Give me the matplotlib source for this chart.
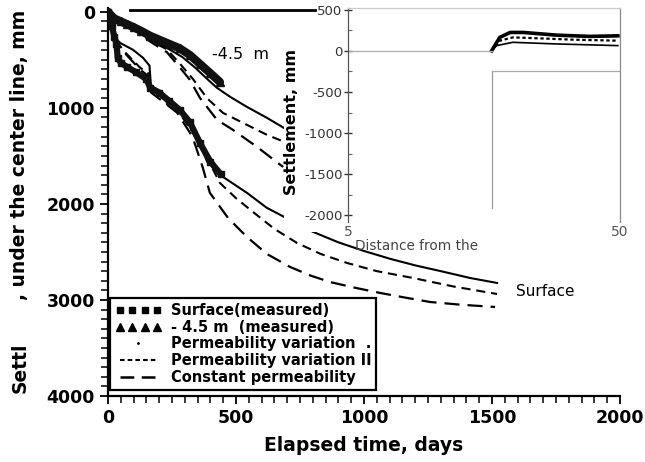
import matplotlib
matplotlib.use("Agg")
import matplotlib.pyplot as plt
from matplotlib.lines import Line2D
from matplotlib.patches import Rectangle
from matplotlib.legend_handler import HandlerLine2D
from matplotlib.ticker import MultipleLocator

# ---------------- data (main chart) ----------------
# Surface, measured (squares)
surf_meas_days = [0, 8, 15, 25, 33, 38, 50, 75, 110, 150, 165, 200, 240, 280, 320, 360, 400, 440]
surf_meas_mm = [0, 60, 150, 260, 330, 480, 530, 575, 630, 700, 790, 840, 930, 1020, 1150, 1370, 1560, 1690]

# -4.5 m, measured (triangles)
deep_meas_days = [0, 10, 25, 50, 75, 100, 130, 165, 200, 240, 280, 320, 360, 400, 437]
deep_meas_mm = [0, 30, 70, 100, 130, 160, 200, 250, 290, 335, 380, 450, 545, 640, 730]

# Surface simulations
surf_pv1_days = [0, 15, 30, 47, 98, 137, 162, 168, 203, 270, 309, 348, 387, 450, 543, 620, 711, 800, 900, 1000, 1100, 1200, 1300, 1414, 1520]
surf_pv1_mm = [0, 150, 280, 323, 396, 479, 560, 780, 850, 990, 1094, 1300, 1560, 1720, 1885, 2040, 2167, 2290, 2400, 2490, 2570, 2640, 2700, 2771, 2823]
surf_pv2_days = [0, 15, 30, 59, 125, 162, 168, 203, 270, 330, 380, 410, 437, 500, 566, 650, 738, 830, 934, 1050, 1191, 1350, 1520]
surf_pv2_mm = [0, 150, 290, 400, 580, 650, 810, 880, 1020, 1250, 1500, 1640, 1781, 1940, 2083, 2260, 2406, 2520, 2615, 2700, 2771, 2860, 2938]
surf_cp_days = [0, 15, 30, 59, 125, 162, 168, 203, 270, 330, 370, 398, 470, 543, 620, 711, 790, 867, 960, 1063, 1160, 1258, 1380, 1512]
surf_cp_mm = [0, 150, 300, 410, 600, 680, 840, 910, 1050, 1300, 1620, 1885, 2150, 2344, 2520, 2656, 2745, 2813, 2870, 2927, 2975, 3021, 3050, 3073]

# -4.5 m simulations
deep_pv1_days = [0, 50, 100, 165, 230, 290, 340, 391, 426, 477, 543, 621, 700]
deep_pv1_mm = [0, 95, 160, 290, 375, 470, 580, 708, 792, 885, 990, 1104, 1229]
deep_pv2_days = [0, 50, 100, 165, 230, 281, 332, 387, 449, 543, 621, 699]
deep_pv2_mm = [0, 100, 170, 300, 390, 540, 700, 900, 1052, 1177, 1281, 1365]
deep_cp_days = [0, 50, 100, 165, 230, 281, 320, 359, 426, 488, 582, 684]
deep_cp_mm = [0, 100, 175, 310, 420, 580, 708, 896, 1125, 1229, 1406, 1615]

x_ticks = [0, 500, 1000, 1500, 2000]
y_ticks = [0, 1000, 2000, 3000, 4000]

# ---------------- data (inset) ----------------
in_dist_a = [26.4, 27.9, 29.8, 32.2, 38.4, 44.5, 49.6]
in_sett_a = [0, 163, 223, 223, 190, 175, 182]
in_dist_b = [26.4, 27.9, 30.3, 35.3, 41.4, 49.6]
in_sett_b = [0, 123, 163, 151, 135, 123]
in_dist_c = [26.4, 27.3, 30.3, 38.4, 49.6]
in_sett_c = [0, 63, 103, 83, 63]
in_yticks = [500, 0, -500, -1000, -1500, -2000]
in_xticks = [0, 50]
in_xticklabels = ["5", "50"]

plt.rcParams['font.family'] = ['DejaVu Sans']
plt.rcParams['axes.unicode_minus'] = False

W, H = 645, 462
fig = plt.figure(figsize=(W / 100, H / 100), dpi=100)

def fx(px):
    return px / W

def fy(py):
    return 1 - py / H

ax = fig.add_axes([fx(108), fy(396), (620 - 108) / W, (396 - 8) / H])
ax.set_xlim(0, 2000)
ax.set_ylim(4000, -40)

short_dash = (4.4, 2.8)
long_dash = (6.8, 3.6)

# measured
ax.plot(surf_meas_days, surf_meas_mm, color='#111111', lw=4.5, marker='s', ms=4.5,
        solid_capstyle='round', zorder=4)
ax.plot(deep_meas_days, deep_meas_mm, color='#111111', lw=6, marker='^', ms=5.5,
        solid_capstyle='round', zorder=4)

# simulations
ax.plot(surf_pv1_days, surf_pv1_mm, color='black', lw=1.5, zorder=3)
ax.plot(surf_pv2_days, surf_pv2_mm, color='black', lw=1.5, dashes=short_dash, zorder=3)
ax.plot(surf_cp_days, surf_cp_mm, color='black', lw=1.6, dashes=long_dash, zorder=3)
ax.plot(deep_pv1_days, deep_pv1_mm, color='black', lw=1.5, zorder=3)
ax.plot(deep_pv2_days, deep_pv2_mm, color='black', lw=1.5, dashes=short_dash, zorder=3)
ax.plot(deep_cp_days, deep_cp_mm, color='black', lw=1.6, dashes=long_dash, zorder=3)

ax.text(516, 448, "-4.5  m", fontsize=11.5, ha='center', va='center')
ax.text(1707, 2917, "Surface", fontsize=11, ha='center', va='center')

ax.set_xticks(x_ticks)
ax.set_yticks(y_ticks)
ax.xaxis.set_minor_locator(MultipleLocator(50))
ax.yaxis.set_minor_locator(MultipleLocator(100))
ax.tick_params(which='major', direction='out', length=6, width=1.3, labelsize=12.5)
ax.tick_params(which='minor', direction='out', length=5, width=1.1)
for lab in ax.get_xticklabels() + ax.get_yticklabels():
    lab.set_fontweight('bold')
for s in ['top', 'right']:
    ax.spines[s].set_visible(False)
for s in ['left', 'bottom']:
    ax.spines[s].set_linewidth(1.6)

ax.set_xlabel("Elapsed time, days", fontsize=13.5, fontweight='bold', labelpad=6)
fig.text(fx(20), fy(368), "Settl", rotation=90, fontsize=13.5, fontweight='bold',
         ha='center', va='center')
fig.text(fx(20), fy(155), ", under the center line, mm", rotation=90, fontsize=13.5,
         fontweight='bold', ha='center', va='center')

# legend
h1 = Line2D([], [], color='black', marker='s', ls='none', ms=5)
h2 = Line2D([], [], color='black', marker='^', ls='none', ms=5.5)
h3 = Line2D([], [], color='black', marker='.', ls='none', ms=2)
h4 = Line2D([], [], color='black', lw=1.5, dashes=(2.2, 1.5))
h5 = Line2D([], [], color='black', lw=1.8, dashes=(5.5, 3.0))
leg = ax.legend([h1, h2, h3, h4, h5],
                ["Surface(measured)", "- 4.5 m  (measured)", "Permeability variation  .",
                 "Permeability variation II", "Constant permeability"],
                loc='upper left', bbox_to_anchor=(0.004, 0.253), borderaxespad=0,
                numpoints=4, handlelength=3.2, handletextpad=0.6, labelspacing=0.12,
                borderpad=0.35, fancybox=False, framealpha=1, edgecolor='black',
                prop={'size': 10.5, 'weight': 'bold'},
                handler_map={h3: HandlerLine2D(numpoints=1)})
leg.get_frame().set_linewidth(1.6)
leg.set_zorder(6)

# decorative top line
fig.add_artist(Line2D([fx(130), fx(315)], [fy(10), fy(10)], color='black', lw=2,
                      transform=fig.transFigure))

# white patch under the inset
fig.add_artist(Rectangle((fx(284), fy(232)), fx(625) - fx(284), fy(0) - fy(232),
                         transform=fig.transFigure, facecolor='white', edgecolor='none',
                         zorder=1))

# inset
iax = fig.add_axes([fx(348), fy(222), (620 - 348) / W, (222 - 8) / H], zorder=2)
iax.set_facecolor('white')
iax.set_xlim(0, 50)
iax.set_ylim(-2080, 520)
iax.plot(in_dist_a, in_sett_a, color='black', lw=2.6)
iax.plot(in_dist_b, in_sett_b, color='black', lw=1.6, dashes=(1.5, 1.2))
iax.plot(in_dist_c, in_sett_c, color='black', lw=1.2)
iax.plot([0, in_dist_a[0]], [0, 0], color='#aaaaaa', lw=0.9)
iax.plot([in_dist_a[0], in_dist_a[0]], [-240, -1905], color='#999999', lw=0.9)
iax.plot([in_dist_a[0], 50], [-240, -240], color='#aaaaaa', lw=0.9)
iax.set_yticks(in_yticks)
iax.yaxis.set_minor_locator(MultipleLocator(250))
iax.set_xticks(in_xticks)
iax.set_xticklabels(in_xticklabels)
iax.tick_params(axis='y', which='major', direction='inout', length=6, width=1,
                labelsize=9.5, colors='#333333', pad=1)
iax.tick_params(axis='y', which='minor', direction='in', length=3, width=0.8, colors='#666666')
iax.tick_params(axis='x', which='major', length=0, labelsize=10, colors='#555555', pad=2)
iax.spines['bottom'].set_visible(False)
iax.spines['left'].set_color('#555555')
iax.spines['top'].set_color('#cccccc')
iax.spines['right'].set_color('#888888')
for s in ['left', 'top', 'right']:
    iax.spines[s].set_linewidth(0.9)
fig.text(fx(292), fy(122), "Settlement, mm", rotation=90, fontsize=11.5, fontweight='bold',
         ha='center', va='center', zorder=3)
fig.text(fx(355), fy(246), "Distance from the", fontsize=9.8, color='#444444',
         ha='left', va='center', zorder=3)

fig.savefig("out.png", dpi=100)
